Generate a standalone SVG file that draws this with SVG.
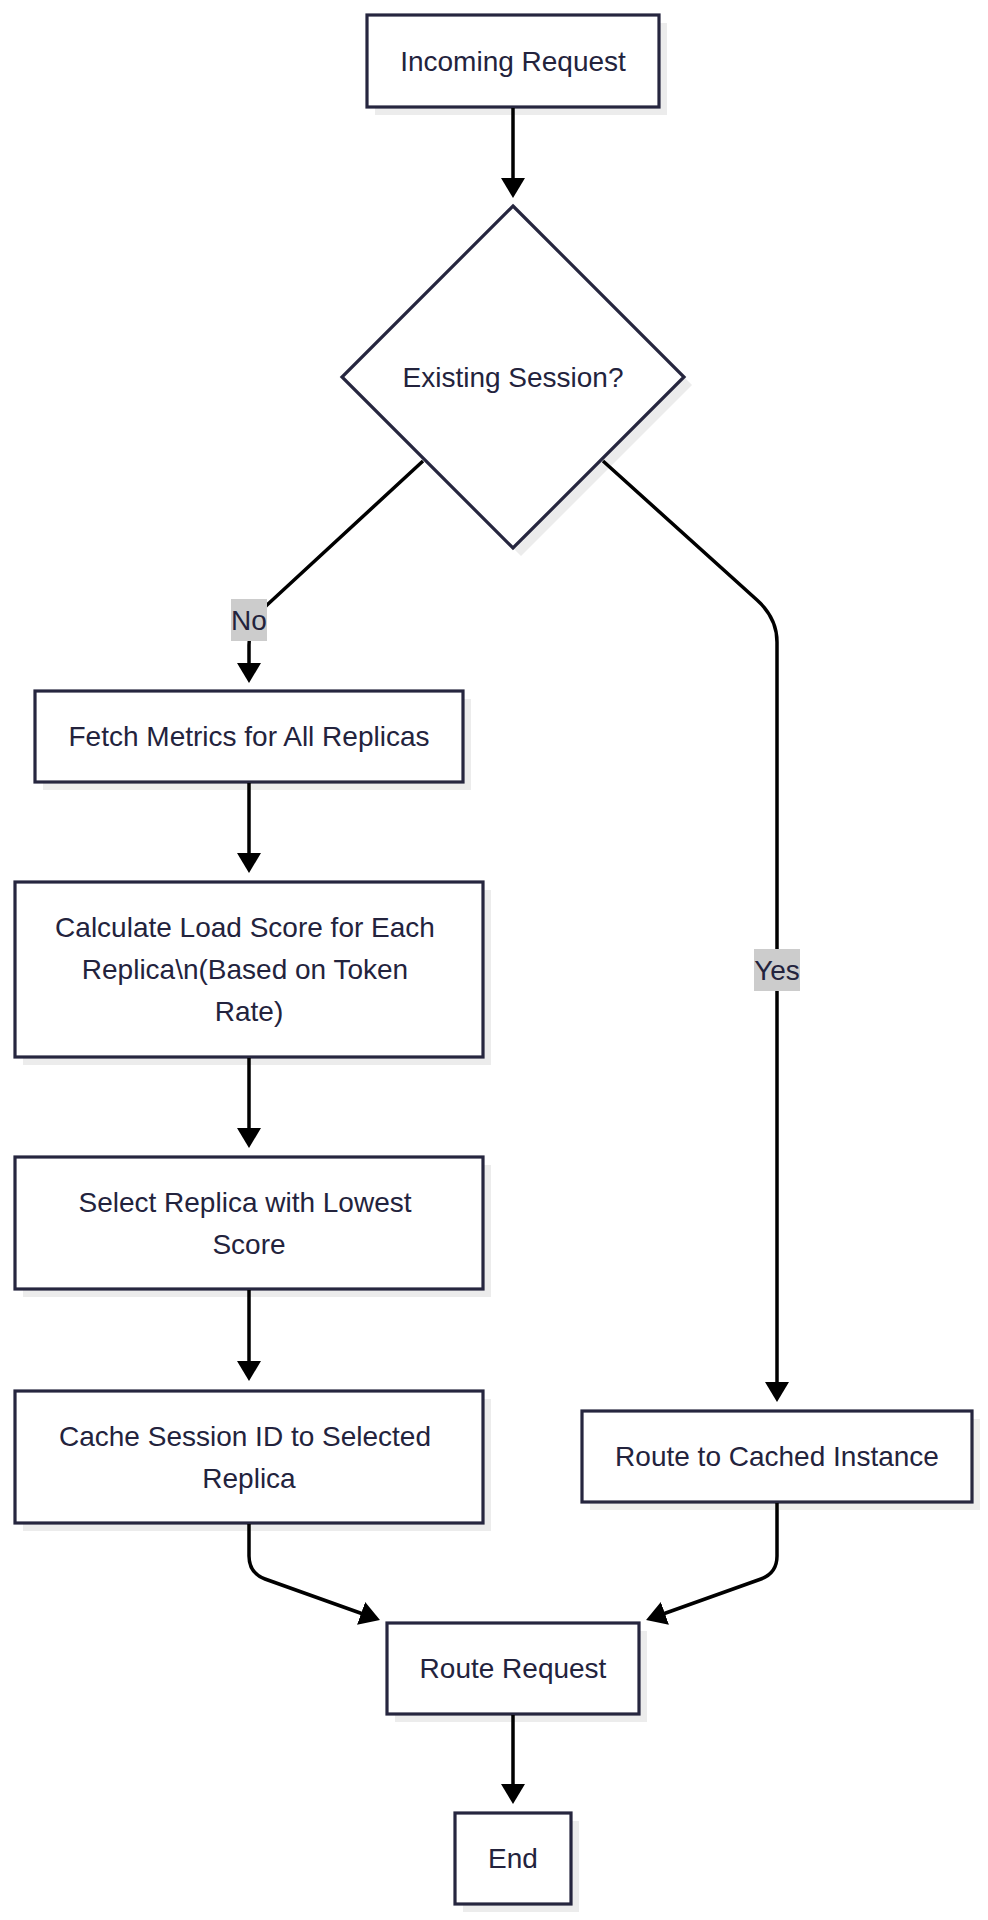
<svg xmlns="http://www.w3.org/2000/svg" width="988" height="1920" viewBox="0 0 988 1920">
<defs>
<style>
.shadow{fill:#ececec;stroke:none}
.node{fill:#ffffff;stroke:#26263f;stroke-width:3.2}
.lbl{font-family:"Liberation Sans",Arial,sans-serif;font-size:28px;fill:#23233d;text-anchor:middle;dominant-baseline:central}
.edge{fill:none;stroke:#000000;stroke-width:3.5}
.ebg{fill:#cccccc}
</style>
<marker id="arrow" viewBox="0 0 20 24" refX="2" refY="12" markerWidth="20" markerHeight="24" markerUnits="userSpaceOnUse" orient="auto">
<path d="M0,0 L20,12 L0,24 z" fill="#000000"/>
</marker>
</defs>
<rect width="988" height="1920" fill="#ffffff"/>

<g id="incoming">
<rect class="shadow" x="375" y="23" width="292" height="92"/>
<rect class="node" x="367" y="15" width="292" height="92"/>
<text class="lbl" x="513" y="61">Incoming Request</text>
</g>

<g id="existing">
<polygon class="shadow" points="521,214 692,385 521,556 350,385"/>
<polygon class="node" points="513,206 684,377 513,548 342,377"/>
<text class="lbl" x="513" y="377">Existing Session?</text>
</g>

<g id="fetch">
<rect class="shadow" x="43" y="699" width="428" height="91"/>
<rect class="node" x="35" y="691" width="428" height="91"/>
<text class="lbl" x="249" y="736.5">Fetch Metrics for All Replicas</text>
</g>

<g id="calculate">
<rect class="shadow" x="23" y="890" width="468" height="175"/>
<rect class="node" x="15" y="882" width="468" height="175"/>
<text class="lbl" x="245" y="927">Calculate Load Score for Each</text>
<text class="lbl" x="245" y="969">Replica\n(Based on Token</text>
<text class="lbl" x="249" y="1011">Rate)</text>
</g>

<g id="select">
<rect class="shadow" x="23" y="1165" width="468" height="132"/>
<rect class="node" x="15" y="1157" width="468" height="132"/>
<text class="lbl" x="245" y="1202">Select Replica with Lowest</text>
<text class="lbl" x="249" y="1244">Score</text>
</g>

<g id="cache">
<rect class="shadow" x="23" y="1399" width="468" height="132"/>
<rect class="node" x="15" y="1391" width="468" height="132"/>
<text class="lbl" x="245" y="1436">Cache Session ID to Selected</text>
<text class="lbl" x="249" y="1478">Replica</text>
</g>

<g id="cached">
<rect class="shadow" x="590" y="1419" width="390" height="91"/>
<rect class="node" x="582" y="1411" width="390" height="91"/>
<text class="lbl" x="777" y="1456.5">Route to Cached Instance</text>
</g>

<g id="route">
<rect class="shadow" x="395" y="1631" width="252" height="91"/>
<rect class="node" x="387" y="1623" width="252" height="91"/>
<text class="lbl" x="513" y="1668.5">Route Request</text>
</g>

<g id="end">
<rect class="shadow" x="463" y="1821" width="116" height="91"/>
<rect class="node" x="455" y="1813" width="116" height="91"/>
<text class="lbl" x="513" y="1858.5">End</text>
</g>

<g id="connectors">
<path class="edge" d="M513,108 L513,180" marker-end="url(#arrow)"/>
<path class="edge" d="M423,461 L267,605 Q249,622 249,645 L249,665" marker-end="url(#arrow)"/>
<path class="edge" d="M603,461 L757,600 Q777,618 777,642 L777,1384" marker-end="url(#arrow)"/>
<path class="edge" d="M249,783 L249,855" marker-end="url(#arrow)"/>
<path class="edge" d="M249,1058 L249,1130" marker-end="url(#arrow)"/>
<path class="edge" d="M249,1290 L249,1363" marker-end="url(#arrow)"/>
<path class="edge" d="M249,1524 L249,1556 Q249,1573 265,1579 L363,1614" marker-end="url(#arrow)"/>
<path class="edge" d="M777,1503 L777,1556 Q777,1573 761,1579 L663,1614" marker-end="url(#arrow)"/>
<path class="edge" d="M513,1715 L513,1786" marker-end="url(#arrow)"/>
<g id="label-no">
<rect class="ebg" x="231" y="599" width="36" height="42"/>
<text class="lbl" x="249" y="620">No</text>
</g>
<g id="label-yes">
<rect class="ebg" x="754" y="949" width="46" height="42"/>
<text class="lbl" x="777" y="970">Yes</text>
</g>
</g>
</svg>
